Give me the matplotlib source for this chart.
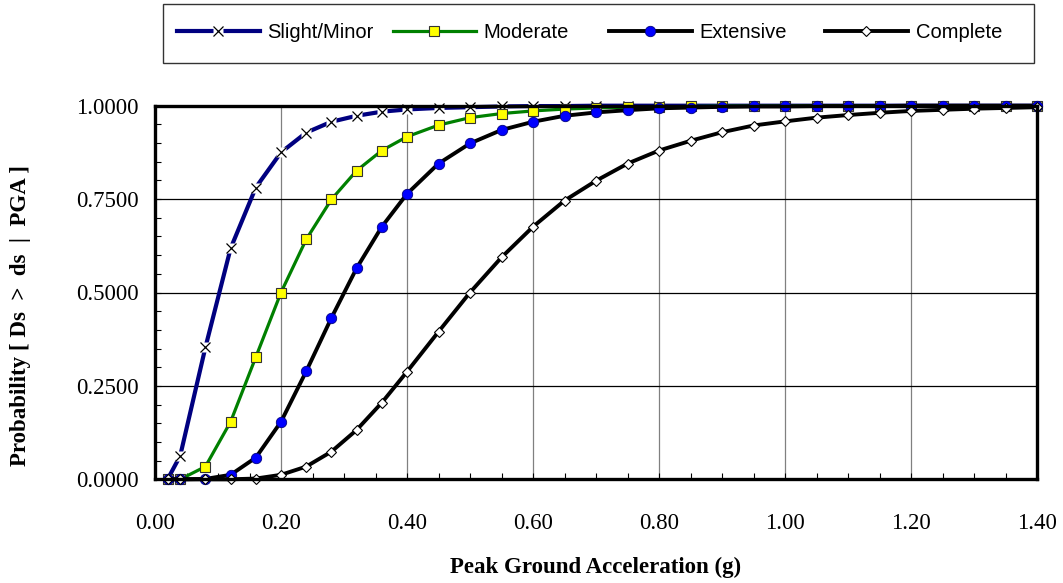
import matplotlib
matplotlib.use("Agg")
import matplotlib.pyplot as plt
from matplotlib.patches import Rectangle
from matplotlib.ticker import MultipleLocator, FormatStrFormatter

# peak ground acceleration (g)
pga = [0.02, 0.04, 0.08, 0.12, 0.16, 0.20, 0.24, 0.28, 0.32, 0.36, 0.40,
       0.45, 0.50, 0.55, 0.60, 0.65, 0.70, 0.75, 0.80, 0.85, 0.90, 0.95,
       1.00, 1.05, 1.10, 1.15, 1.20, 1.25, 1.30, 1.35, 1.40]

slight = [0.000, 0.063, 0.353, 0.618, 0.781, 0.875, 0.928, 0.957, 0.973, 0.984,
          0.990, 0.994, 0.996, 0.998, 0.999, 0.999, 1.000, 1.000, 1.000, 1.000,
          1.000, 1.000, 1.000, 1.000, 1.000, 1.000, 1.000, 1.000, 1.000, 1.000, 1.000]
moderate = [0.000, 0.000, 0.034, 0.154, 0.327, 0.500, 0.642, 0.749, 0.826, 0.880,
            0.917, 0.948, 0.968, 0.979, 0.986, 0.991, 0.994, 0.996, 0.997, 0.998,
            0.999, 0.999, 0.999, 1.000, 1.000, 1.000, 1.000, 1.000, 1.000, 1.000, 1.000]
extensive = [0.000, 0.000, 0.001, 0.012, 0.058, 0.154, 0.289, 0.432, 0.565, 0.676,
             0.764, 0.845, 0.899, 0.935, 0.957, 0.973, 0.982, 0.988, 0.993, 0.995,
             0.997, 0.998, 0.998, 0.999, 0.999, 0.999, 1.000, 1.000, 1.000, 1.000, 1.000]
complete = [0.000, 0.000, 0.000, 0.000, 0.002, 0.012, 0.034, 0.074, 0.132, 0.205,
            0.288, 0.395, 0.500, 0.594, 0.676, 0.746, 0.799, 0.845, 0.880, 0.906,
            0.929, 0.947, 0.958, 0.968, 0.975, 0.981, 0.986, 0.989, 0.992, 0.994, 0.996]

labels = ['Slight/Minor', 'Moderate', 'Extensive', 'Complete']

serif = ['Liberation Serif', 'DejaVu Serif']
sans = ['Liberation Sans', 'DejaVu Sans']

fig = plt.figure(figsize=(10.63, 5.83), dpi=100)
W, H = 1063, 583
ax = fig.add_axes([155 / W, 1 - 479.3 / H, 882 / W, 373.6 / H])

# gridlines
ax.set_xlim(0, 1.4)
ax.set_ylim(0, 1)
ax.xaxis.set_major_locator(MultipleLocator(0.2))
ax.xaxis.set_minor_locator(MultipleLocator(0.05))
ax.yaxis.set_major_locator(MultipleLocator(0.25))
ax.yaxis.set_minor_locator(MultipleLocator(0.05))
ax.xaxis.set_major_formatter(FormatStrFormatter('%.2f'))
ax.yaxis.set_major_formatter(FormatStrFormatter('%.4f'))
ax.grid(axis='x', which='major', color='#808080', lw=0.9)
ax.grid(axis='y', which='major', color='black', lw=0.9)
ax.set_axisbelow(True)

# series
l1, = ax.plot(pga, slight, color='#000080', lw=3.0, marker='s', ms=7.5,
              mfc='white', mec='none', clip_on=False, zorder=3)
l1x, = ax.plot(pga, slight, ls='none', marker='x', ms=7.5, mew=0.9,
               color='black', clip_on=False, zorder=3)
l2, = ax.plot(pga, moderate, color='#008000', lw=2.3, marker='s', ms=7,
              mfc='#FFFF00', mec='#333333', mew=0.8, clip_on=False, zorder=4)
l3, = ax.plot(pga, extensive, color='black', lw=2.8, marker='o', ms=7.5,
              mfc='#0000FF', mec='#000080', mew=0.6, clip_on=False, zorder=5)
l4, = ax.plot(pga, complete, color='black', lw=2.8, marker='D', ms=5.5,
              mfc='white', mec='black', mew=0.8, clip_on=False, zorder=6)

for s in ax.spines.values():
    s.set_linewidth(2.4)
    s.set_zorder(7)

ax.tick_params(which='both', direction='in', top=False, right=False,
               width=0.8, color='black')
ax.tick_params(which='major', length=4)
ax.tick_params(which='minor', length=4)
ax.tick_params(axis='x', pad=24)
ax.tick_params(axis='y', pad=12)
for lab in ax.get_xticklabels() + ax.get_yticklabels():
    lab.set_family(serif)
    lab.set_fontsize(16.5)

ax.set_xlabel('Peak Ground Acceleration (g)', family=serif, fontsize=16.5,
              fontweight='bold', labelpad=17)
fig.text(21 / W, 1 - 315 / H, 'Probability [ Ds  >  ds  |  PGA ]', family=serif,
         fontsize=16.5, fontweight='bold', rotation=90, ha='center', va='center')

# legend box with four equal slots
fig.patches.append(Rectangle((163 / W, 1 - 63 / H), (1034 - 163) / W, 59 / H,
                             transform=fig.transFigure, fill=False,
                             edgecolor='#333333', lw=1.0))
handles = [(l1, l1x), l2, l3, l4]
for i, (h, lab) in enumerate(zip(handles, labels)):
    x0 = (177 + 216 * i) / W
    leg = fig.legend([h], [lab], loc='center left',
                     bbox_to_anchor=(x0, 1 - 33 / H), frameon=False,
                     handlelength=4.1, handletextpad=0.4, borderaxespad=0,
                     borderpad=0, numpoints=1,
                     prop={'family': sans, 'size': 14.5})

fig.savefig('out.png', dpi=100)
